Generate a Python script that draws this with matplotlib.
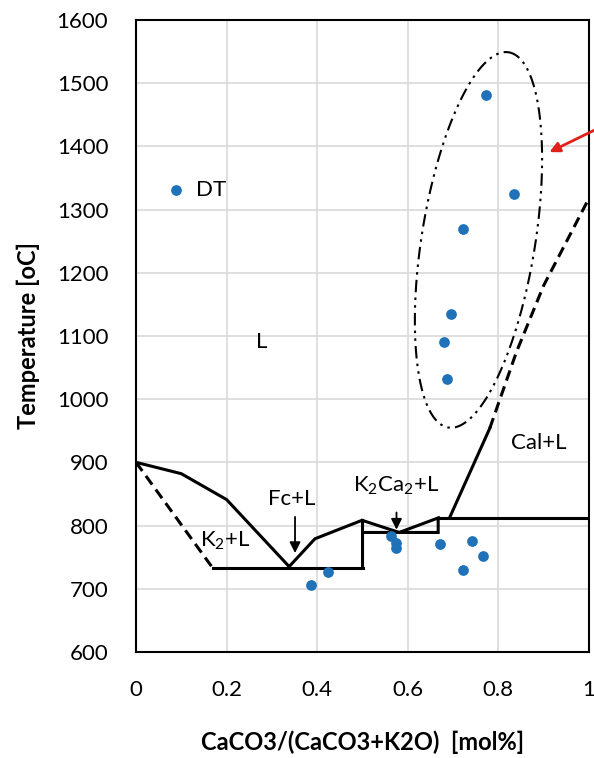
import numpy as np
import matplotlib.pyplot as plt

plt.rcParams['font.family'] = ['Lato', 'DejaVu Sans']
plt.rcParams['mathtext.fontset'] = 'custom'
plt.rcParams['mathtext.rm'] = 'Lato'
plt.rcParams['mathtext.it'] = 'Lato:italic'

# measured DT points
dt_x = [0.386, 0.423, 0.563, 0.573, 0.573, 0.671, 0.741, 0.767, 0.721,
        0.773, 0.834, 0.722, 0.695, 0.680, 0.687]
dt_T = [706, 726, 783, 772, 764, 770, 775, 751, 730,
        1481, 1325, 1270, 1135, 1090, 1032]

# phase diagram lines (solid)
liq_left_x = [0.0, 0.10, 0.20, 0.338]
liq_left_T = [900, 882, 841, 735]
liq_mid_x = [0.338, 0.395, 0.498, 0.5, 0.5]
liq_mid_T = [735, 779, 808, 808, 733]
solidus_x = [0.169, 0.5]
solidus_T = [733, 733]
k2ca2_x = [0.5, 0.581, 0.667, 0.667, 0.5]
k2ca2_T = [808, 789, 812, 789, 789]
upper_x = [0.667, 1.0]
upper_T = [812, 812]
cal_x = [0.692, 0.781]
cal_T = [812, 954]

# dashed lines
k2_dash_x = [0.0, 0.169]
k2_dash_T = [900, 733]
cal_dash_x = [0.781, 0.84, 0.90, 1.0]
cal_dash_T = [954, 1075, 1180, 1318]

# dash-dot ellipse around the high temperature points
ell_center = (0.756, 1252)
ell_major = (0.066, 297)
ell_minor = (0.124, -13)

fig, ax = plt.subplots(figsize=(5.94, 7.58), dpi=100)
fig.subplots_adjust(left=0.229, right=0.9916, bottom=0.140, top=0.9736)

ax.grid(True, color='#d9d9d9', linewidth=1.2)
ax.set_axisbelow(True)

lw = 2.2
for xs, ts in [(liq_left_x, liq_left_T), (liq_mid_x, liq_mid_T),
               (solidus_x, solidus_T), (k2ca2_x, k2ca2_T),
               (upper_x, upper_T), (cal_x, cal_T)]:
    ax.plot(xs, ts, color='black', linewidth=lw, solid_joinstyle='miter')

ax.plot(k2_dash_x, k2_dash_T, color='black', linewidth=lw, linestyle=(0, (3.5, 2)))
ax.plot(cal_dash_x, cal_dash_T, color='black', linewidth=lw, linestyle=(0, (3.5, 2)))

t = np.linspace(0, 2 * np.pi, 300)
ex = ell_center[0] + ell_major[0] * np.cos(t) + ell_minor[0] * np.sin(t)
ey = ell_center[1] + ell_major[1] * np.cos(t) + ell_minor[1] * np.sin(t)
ax.plot(ex, ey, color='black', linewidth=1.5, linestyle=(0, (6, 2.5, 1.2, 2.5, 1.2, 2.5)))

ax.scatter(dt_x, dt_T, s=45, color='#1f72b8', zorder=5, label='DT')

fs = 16
ax.text(0.278, 1091, 'L', fontsize=fs, ha='center', va='center')
ax.text(0.888, 930, 'Cal+L', fontsize=fs, ha='center', va='center')
ax.text(0.196, 775, 'K$_2$+L', fontsize=fs, ha='center', va='center')
ax.text(0.344, 842, 'Fc+L', fontsize=fs, ha='center', va='center')
ax.text(0.575, 862, 'K$_2$Ca$_2$+L', fontsize=fs, ha='center', va='center')

arrow = dict(arrowstyle='-|>', color='black', lw=1.3, mutation_scale=16)
ax.annotate('', xy=(0.351, 752), xytext=(0.351, 818), arrowprops=arrow)
ax.annotate('', xy=(0.575, 789), xytext=(0.575, 825), arrowprops=arrow)
ax.annotate('', xy=(0.907, 1389), xytext=(1.03, 1432),
            arrowprops=dict(arrowstyle='-|>', color='#e0201b', lw=2, mutation_scale=15),
            annotation_clip=False)

ax.legend(loc='center left', bbox_to_anchor=(0.063, 1331), bbox_transform=ax.transData,
          frameon=False, fontsize=fs, borderpad=0, borderaxespad=0,
          handlelength=1.0, handletextpad=0.4)

ax.set_xlim(0, 1)
ax.set_ylim(600, 1600)
ax.set_xticks([0, 0.2, 0.4, 0.6, 0.8, 1])
ax.set_xticklabels(['0', '0.2', '0.4', '0.6', '0.8', '1'])
ax.set_yticks(range(600, 1601, 100))
ax.tick_params(length=0, labelsize=fs, pad=20)
for s in ax.spines.values():
    s.set_linewidth(1.5)

ax.set_xlabel('CaCO3/(CaCO3+K2O)  [mol%]', fontsize=17, fontweight='bold', labelpad=22)
ax.set_ylabel('Temperature [oC]', fontsize=17, fontweight='bold', labelpad=12)

fig.savefig('out.png', dpi=100)
